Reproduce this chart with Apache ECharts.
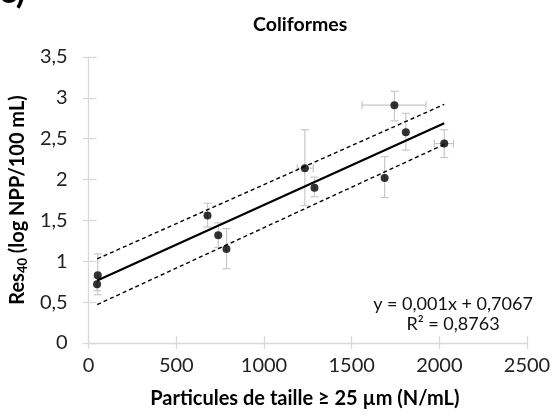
<!DOCTYPE html>
<html>
<head>
<meta charset="utf-8">
<script src="https://cdn.jsdelivr.net/npm/echarts@6/dist/echarts.min.js"></script>
<style>
html,body{margin:0;padding:0;background:#fff;}
#chart{width:554px;height:419px;}
</style>
</head>
<body>
<div id="chart"></div>
<script>
// ---- data ----
var xVals    = [52, 48, 678, 739, 786, 1233, 1288, 1688, 1744, 1809, 2028];
var yVals    = [0.83, 0.72, 1.56, 1.32, 1.15, 2.14, 1.90, 2.02, 2.91, 2.58, 2.44];
var yErrLow  = [0.59, 0.64, 1.42, 1.17, 0.91, 1.68, 1.79, 1.78, 2.72, 2.36, 2.27];
var yErrHigh = [1.09, 0.80, 1.71, 1.47, 1.40, 2.61, 2.03, 2.28, 3.08, 2.81, 2.61];
var xErrLow  = [null, null, null, null, null, 1190, null, null, 1559, null, 1972];
var xErrHigh = [null, null, null, null, null, 1281, null, null, 1924, null, 2080];
var fitX     = [49, 2028];
var fitY     = [0.765, 2.69];
var upperY   = [1.03, 2.92];
var lowerY   = [0.47, 2.43];
var xTicks   = [0, 500, 1000, 1500, 2000, 2500];
var yTicks   = [0, 0.5, 1, 1.5, 2, 2.5, 3, 3.5];
var titleText = 'Coliformes';
var panelLabel = 'c)';
var eqLine1 = 'y = 0,001x + 0,7067';
var eqLine2 = 'R² = 0,8763';

var FONT = 'Lato';
var AXIS_COLOR = '#d9d9d9';
var ERR_COLOR = '#c8c8c8';

var points = xVals.map(function (x, i) { return [x, yVals[i]]; });
var errData = xVals.map(function (x, i) {
  return [x, yVals[i], yErrLow[i], yErrHigh[i], xErrLow[i], xErrHigh[i]];
});
function pairs(xs, ys) { return xs.map(function (x, i) { return [x, ys[i]]; }); }

var chart = echarts.init(document.getElementById('chart'), null, {renderer: 'canvas'});

var grid = {left: 87, top: 57, width: 440, height: 286};

function fmtComma(v) { return String(v).replace('.', ','); }
function fmtPlain(v) { return String(v); }

var option = {
  animation: false,
  backgroundColor: '#ffffff',
  grid: grid,
  title: {
    text: titleText,
    left: 248, top: 10,
    textStyle: {fontFamily: FONT, fontWeight: 'bold', fontSize: 19.5, color: '#000'}
  },
  graphic: [
    {type: 'text', left: -1, top: -27, style: {text: panelLabel, font: 'bold 36px ' + FONT, fill: '#000'}},
    {type: 'text', x: 453, y: 304, style: {text: eqLine1, font: '18px ' + FONT, fill: '#111', textAlign: 'center', textVerticalAlign: 'middle'}},
    {type: 'text', x: 453, y: 324, style: {text: eqLine2, font: '18px ' + FONT, fill: '#111', textAlign: 'center', textVerticalAlign: 'middle'}}
  ],
  xAxis: [
    {
      type: 'value', min: xTicks[0], max: xTicks[xTicks.length - 1], interval: 500,
      splitLine: {show: false},
      axisLine: {show: true, onZero: false, lineStyle: {color: AXIS_COLOR, width: 1.3}},
      axisTick: {show: true, inside: false, length: 6, lineStyle: {color: AXIS_COLOR, width: 1.3}},
      axisLabel: {fontFamily: FONT, fontSize: 20, color: '#222', margin: 13, formatter: fmtPlain},
      name: 'Particules de taille ≥ 25 µm (N/mL)',
      nameLocation: 'middle', nameGap: 46,
      nameTextStyle: {fontFamily: FONT, fontWeight: 'bold', fontSize: 20, color: '#000', padding: [0, 0, 0, -6]}
    },
    {
      type: 'value', min: xTicks[0], max: xTicks[xTicks.length - 1], interval: 500, position: 'bottom',
      splitLine: {show: false}, axisLine: {show: false},
      axisTick: {show: true, inside: true, length: 7, lineStyle: {color: AXIS_COLOR, width: 1.3}},
      axisLabel: {show: false}
    }
  ],
  yAxis: [
    {
      type: 'value', min: yTicks[0], max: yTicks[yTicks.length - 1], interval: 0.5,
      splitLine: {show: false},
      axisLine: {show: true, onZero: false, lineStyle: {color: AXIS_COLOR, width: 1.3}},
      axisTick: {show: true, inside: false, length: 6, lineStyle: {color: AXIS_COLOR, width: 1.3}},
      axisLabel: {fontFamily: FONT, fontSize: 20, color: '#222', margin: 21, formatter: fmtComma},
      name: '{b|Res}{s|40}{b| (log NPP/100 mL)}',
      nameLocation: 'middle', nameGap: 56, nameRotate: 90,
      nameTextStyle: {
        rich: {
          b: {fontFamily: FONT, fontWeight: 'bold', fontSize: 20, color: '#000'},
          s: {fontFamily: FONT, fontWeight: 'bold', fontSize: 13, color: '#000', verticalAlign: 'bottom', padding: [9, 0, 0, 0]}
        }
      }
    },
    {
      type: 'value', min: yTicks[0], max: yTicks[yTicks.length - 1], interval: 0.5, position: 'left',
      splitLine: {show: false}, axisLine: {show: false},
      axisTick: {show: true, inside: true, length: 8, lineStyle: {color: AXIS_COLOR, width: 1.3}},
      axisLabel: {show: false}
    }
  ],
  series: [
    {
      type: 'custom', name: 'err', z: 1,
      data: errData,
      renderItem: function (params, api) {
        var x = api.value(0), y = api.value(1);
        var lo = api.value(2), hi = api.value(3);
        var xl = api.value(4), xh = api.value(5);
        var children = [];
        var cap = 4;
        var st = {stroke: ERR_COLOR, lineWidth: 1.2};
        var pLo = api.coord([x, lo]), pHi = api.coord([x, hi]);
        children.push({type: 'line', shape: {x1: pLo[0], y1: pLo[1], x2: pHi[0], y2: pHi[1]}, style: st});
        children.push({type: 'line', shape: {x1: pLo[0] - cap, y1: pLo[1], x2: pLo[0] + cap, y2: pLo[1]}, style: st});
        children.push({type: 'line', shape: {x1: pHi[0] - cap, y1: pHi[1], x2: pHi[0] + cap, y2: pHi[1]}, style: st});
        if (xl != null && !isNaN(xl) && xh != null && !isNaN(xh)) {
          var qL = api.coord([xl, y]), qH = api.coord([xh, y]);
          children.push({type: 'line', shape: {x1: qL[0], y1: qL[1], x2: qH[0], y2: qH[1]}, style: st});
          children.push({type: 'line', shape: {x1: qL[0], y1: qL[1] - cap, x2: qL[0], y2: qL[1] + cap}, style: st});
          children.push({type: 'line', shape: {x1: qH[0], y1: qH[1] - cap, x2: qH[0], y2: qH[1] + cap}, style: st});
        }
        return {type: 'group', children: children};
      }
    },
    {
      type: 'line', name: 'fit', z: 2, data: pairs(fitX, fitY), showSymbol: false,
      lineStyle: {color: '#000', width: 2.2}
    },
    {
      type: 'line', name: 'upper', z: 2, data: pairs(fitX, upperY), showSymbol: false,
      lineStyle: {color: '#000', width: 1.4, type: [4, 3]}
    },
    {
      type: 'line', name: 'lower', z: 2, data: pairs(fitX, lowerY), showSymbol: false,
      lineStyle: {color: '#000', width: 1.4, type: [4, 3]}
    },
    {
      type: 'scatter', name: 'pts', z: 3, data: points,
      symbol: 'circle', symbolSize: 8,
      itemStyle: {color: '#000'}
    }
  ]
};
chart.setOption(option);
</script>
</body>
</html>
